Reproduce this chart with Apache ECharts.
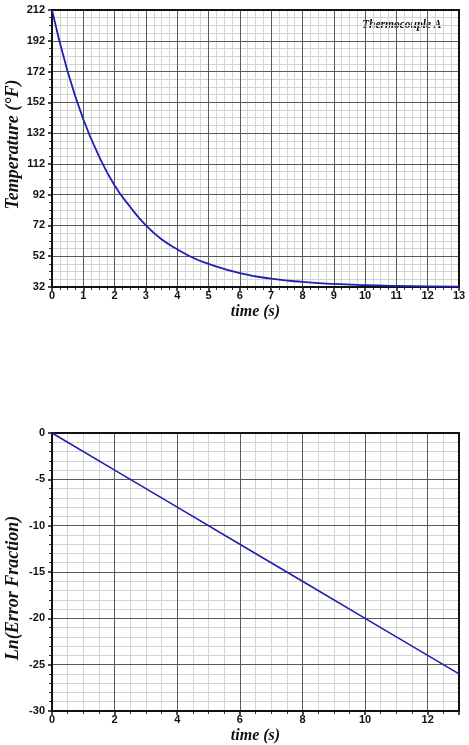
<!DOCTYPE html>
<html>
<head>
<meta charset="utf-8">
<script src="https://cdn.jsdelivr.net/npm/echarts@6/dist/echarts.min.js"></script>
<style>
html,body{margin:0;padding:0;background:#fff;}
#c{width:469px;height:745px;}
</style>
</head>
<body>
<div id="c"></div>
<script>
// Top chart: temperature vs time
const timeA = [0, 0.5, 1, 1.5, 2, 2.5, 3, 3.5, 4, 4.5, 5, 6, 7, 8, 9, 10, 11, 12, 13];
const tempA = [212, 172, 141, 117, 98, 84, 72, 63, 56.5, 51, 47, 41, 37.4, 35.3, 34, 33.2, 32.7, 32.4, 32.3];
// Bottom chart: Ln(error fraction) vs time
const timeB = [0, 2, 4, 6, 8, 10, 12, 13];
const lnErr = [0, -4, -8, -12, -16, -20, -24, -26];
const annotation = 'Thermocouple A';

const chart = echarts.init(document.getElementById('c'), null, {renderer: 'canvas'});
const serif = '"Liberation Serif", "DejaVu Serif", serif';
const sans = '"Liberation Sans", Arial, sans-serif';
const lineColor = '#2020b0';
const majorGrid = '#5a5a5a';
const minorGrid = '#d4d4d4';

function xAxis(gridIndex, interval, showMax) {
  return {
    type: 'value', gridIndex, min: 0, max: 13, interval, z: 3,
    name: 'time (s)', nameLocation: 'middle', nameGap: 17, nameMoveOverlap: false,
    nameTextStyle: {fontFamily: serif, fontStyle: 'italic', fontWeight: 'bold', fontSize: 16, color: '#111'},
    axisLine: {show: true, onZero: false, lineStyle: {color: '#111', width: 2}},
    axisTick: {show: true, inside: false, length: 4, lineStyle: {color: '#111', width: 1.5}},
    minorTick: {show: true, splitNumber: 4, length: 3, lineStyle: {color: '#333', width: 1}},
    axisLabel: {fontFamily: sans, fontWeight: 'bold', fontSize: 11, color: '#111', margin: 3, showMaxLabel: showMax},
    splitLine: {show: true, lineStyle: {color: majorGrid, width: 1, type: 'solid'}},
    minorSplitLine: {show: false}
  };
}
function xMinor(gridIndex, interval) {
  return {
    type: 'value', gridIndex, min: 0, max: 13, interval, z: 0, position: 'bottom',
    axisLine: {show: false}, axisTick: {show: false}, axisLabel: {show: false},
    splitLine: {show: false},
    minorTick: {show: false, splitNumber: 4},
    minorSplitLine: {show: true, lineStyle: {color: minorGrid, width: 1, type: 'solid'}}
  };
}
function yAxis(gridIndex, min, max, interval, minorSplit, name, pad) {
  return {
    type: 'value', gridIndex, min, max, interval, z: 3,
    name, nameLocation: 'middle', nameGap: 30, nameMoveOverlap: false,
    nameTextStyle: {fontFamily: serif, fontStyle: 'italic', fontWeight: 'bold', fontSize: 18, color: '#111', padding: pad},
    axisLine: {show: true, onZero: false, lineStyle: {color: '#111', width: 2}},
    axisTick: {show: true, inside: false, length: 4, lineStyle: {color: '#111', width: 1.5}},
    minorTick: {show: true, splitNumber: minorSplit, length: 3, lineStyle: {color: '#333', width: 1}},
    axisLabel: {fontFamily: sans, fontWeight: 'bold', fontSize: 11, color: '#111', margin: 7},
    splitLine: {show: true, lineStyle: {color: majorGrid, width: 1, type: 'solid'}},
    minorSplitLine: {show: false}
  };
}
function yMinor(gridIndex, min, max, interval, minorSplit) {
  return {
    type: 'value', gridIndex, min, max, interval, z: 0, position: 'left',
    axisLine: {show: false}, axisTick: {show: false}, axisLabel: {show: false},
    splitLine: {show: false},
    minorTick: {show: false, splitNumber: minorSplit},
    minorSplitLine: {show: true, lineStyle: {color: minorGrid, width: 1, type: 'solid'}}
  };
}

chart.setOption({
  animation: false,
  backgroundColor: '#fff',
  grid: [
    {left: 52, right: 10, top: 10, height: 277, show: true, borderColor: '#111', borderWidth: 2, z: 4,
     containLabel: false, outerBoundsMode: 'none'},
    {left: 52, right: 10, top: 433, height: 278, show: true, borderColor: '#111', borderWidth: 2, z: 4,
     containLabel: false, outerBoundsMode: 'none'}
  ],
  xAxis: [xAxis(0, 1, true), xAxis(1, 2, false), xMinor(0, 1), xMinor(1, 2)],
  yAxis: [
    yAxis(0, 32, 212, 20, 4, 'Temperature (°F)', [0, 0, 0, 8]),
    yAxis(1, -30, 0, 5, 5, 'Ln(Error Fraction)', [0, 32, 0, 0]),
    yMinor(0, 32, 212, 20, 4),
    yMinor(1, -30, 0, 5, 5)
  ],
  series: [
    {type: 'line', xAxisIndex: 0, yAxisIndex: 0, smooth: true, showSymbol: false, z: 5,
     data: timeA.map((t, i) => [t, tempA[i]]), lineStyle: {color: lineColor, width: 1.8}},
    {type: 'line', xAxisIndex: 1, yAxisIndex: 1, showSymbol: false, z: 5,
     data: timeB.map((t, i) => [t, lnErr[i]]), lineStyle: {color: lineColor, width: 1.6}}
  ],
  graphic: [
    {type: 'text', left: 362, top: 19,
     style: {text: annotation, font: 'italic bold 11.5px ' + serif, fill: '#111'}}
  ]
});
</script>
</body>
</html>
